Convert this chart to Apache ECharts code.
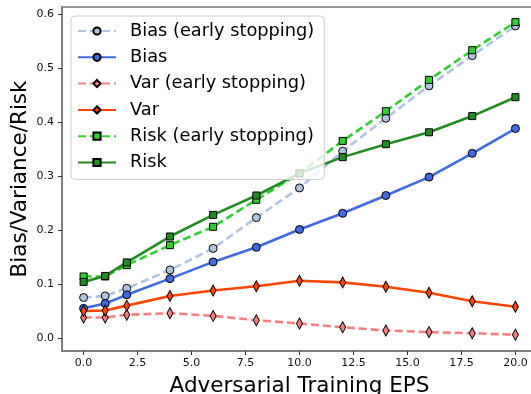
<!DOCTYPE html>
<html>
<head>
<meta charset="utf-8">
<script src="https://cdn.jsdelivr.net/npm/echarts@6/dist/echarts.min.js"></script>
<style>
  html, body { margin: 0; padding: 0; background: #fff; }
  #chart { width: 531px; height: 394px; }
</style>
</head>
<body>
<div id="chart"></div>
<script>
// x positions (adversarial training eps)
const eps = [0, 1, 2, 4, 6, 8, 10, 12, 14, 16, 18, 20]

// values
const biasEarly = [0.075, 0.078, 0.092, 0.126, 0.166, 0.223, 0.278, 0.346, 0.407, 0.467, 0.523, 0.578]
const bias = [0.055, 0.064, 0.080, 0.110, 0.141, 0.168, 0.201, 0.231, 0.264, 0.298, 0.342, 0.388]
const varEarly = [0.038, 0.038, 0.043, 0.046, 0.041, 0.033, 0.027, 0.020, 0.014, 0.011, 0.009, 0.006]
const variance = [0.050, 0.051, 0.060, 0.078, 0.088, 0.096, 0.106, 0.103, 0.095, 0.084, 0.068, 0.058]
const riskEarly = [0.114, 0.114, 0.135, 0.172, 0.206, 0.256, 0.305, 0.365, 0.420, 0.478, 0.533, 0.585]
const risk = [0.104, 0.115, 0.140, 0.188, 0.228, 0.264, 0.305, 0.335, 0.359, 0.381, 0.411, 0.446]

const xTicks = [0, 2.5, 5, 7.5, 10, 12.5, 15, 17.5, 20]
const yTicks = [0, 0.1, 0.2, 0.3, 0.4, 0.5, 0.6]

const font = 'DejaVu Sans'

const pairs = (ys) => eps.map((x, i) => [x, ys[i]])

const makeSeries = (name, ys, color, symbol, size, dashed) => ({
  name: name,
  type: 'line',
  data: pairs(ys),
  symbol: symbol,
  symbolSize: size,
  lineStyle: { color: color, width: 2.6, type: dashed ? [8, 4] : 'solid' },
  itemStyle: { color: color, borderColor: '#000', borderWidth: 1 },
  emphasis: { disabled: true }
})

const chart = echarts.init(document.getElementById('chart'))

chart.setOption({
  animation: false,
  textStyle: { fontFamily: font },
  grid: {
    left: 62,
    top: 7,
    right: -6,
    bottom: 43,
    outerBoundsMode: 'none',
    containLabel: false,
    show: true,
    borderColor: '#777',
    borderWidth: 1.5,
    backgroundColor: 'transparent'
  },
  legend: {
    orient: 'vertical',
    left: 71,
    top: 16,
    padding: [5, 10, 7, 6],
    itemWidth: 38,
    itemHeight: 9,
    itemGap: 6.3,
    backgroundColor: 'rgba(255,255,255,0.8)',
    borderColor: '#ccc',
    borderWidth: 1,
    borderRadius: 4,
    textStyle: { fontFamily: font, fontSize: 17.8, color: '#000', lineHeight: 20, padding: [0, 0, 0, 9] },
    data: ['Bias (early stopping)', 'Bias', 'Var (early stopping)', 'Var', 'Risk (early stopping)', 'Risk']
  },
  xAxis: {
    type: 'value',
    min: -1,
    max: 21,
    name: 'Adversarial Training EPS',
    nameLocation: 'middle',
    nameGap: 24,
    nameMoveOverlap: false,
    nameTextStyle: { fontFamily: font, fontSize: 21.5, color: '#000' },
    axisLine: { show: true, onZero: false, lineStyle: { color: '#777', width: 1.5 } },
    axisTick: { show: true, length: 4, customValues: xTicks, lineStyle: { color: '#333' } },
    axisLabel: {
      customValues: xTicks,
      formatter: (v) => v.toFixed(1),
      fontFamily: font,
      fontSize: 11,
      color: '#111',
      margin: 7
    },
    splitLine: { show: false }
  },
  yAxis: {
    type: 'value',
    min: -0.024,
    max: 0.613,
    name: 'Bias/Variance/Risk',
    nameLocation: 'middle',
    nameGap: 31,
    nameMoveOverlap: false,
    nameTextStyle: { fontFamily: font, fontSize: 21.5, color: '#000' },
    axisLine: { show: true, onZero: false, lineStyle: { color: '#777', width: 1.5 } },
    axisTick: { show: true, length: 4, customValues: yTicks, lineStyle: { color: '#333' } },
    axisLabel: {
      customValues: yTicks,
      formatter: (v) => v.toFixed(1),
      fontFamily: font,
      fontSize: 11,
      color: '#111',
      margin: 8
    },
    splitLine: { show: false }
  },
  series: [
    makeSeries('Bias (early stopping)', biasEarly, '#b0c4de', 'circle', 8, true),
    makeSeries('Bias', bias, '#4169e1', 'circle', 8, false),
    makeSeries('Var (early stopping)', varEarly, '#f08080', 'diamond', [6, 11], true),
    makeSeries('Var', variance, '#ff4500', 'diamond', [6, 11], false),
    makeSeries('Risk (early stopping)', riskEarly, '#32cd32', 'rect', 7, true),
    makeSeries('Risk', risk, '#228b22', 'rect', 7, false)
  ]
})
</script>
</body>
</html>
